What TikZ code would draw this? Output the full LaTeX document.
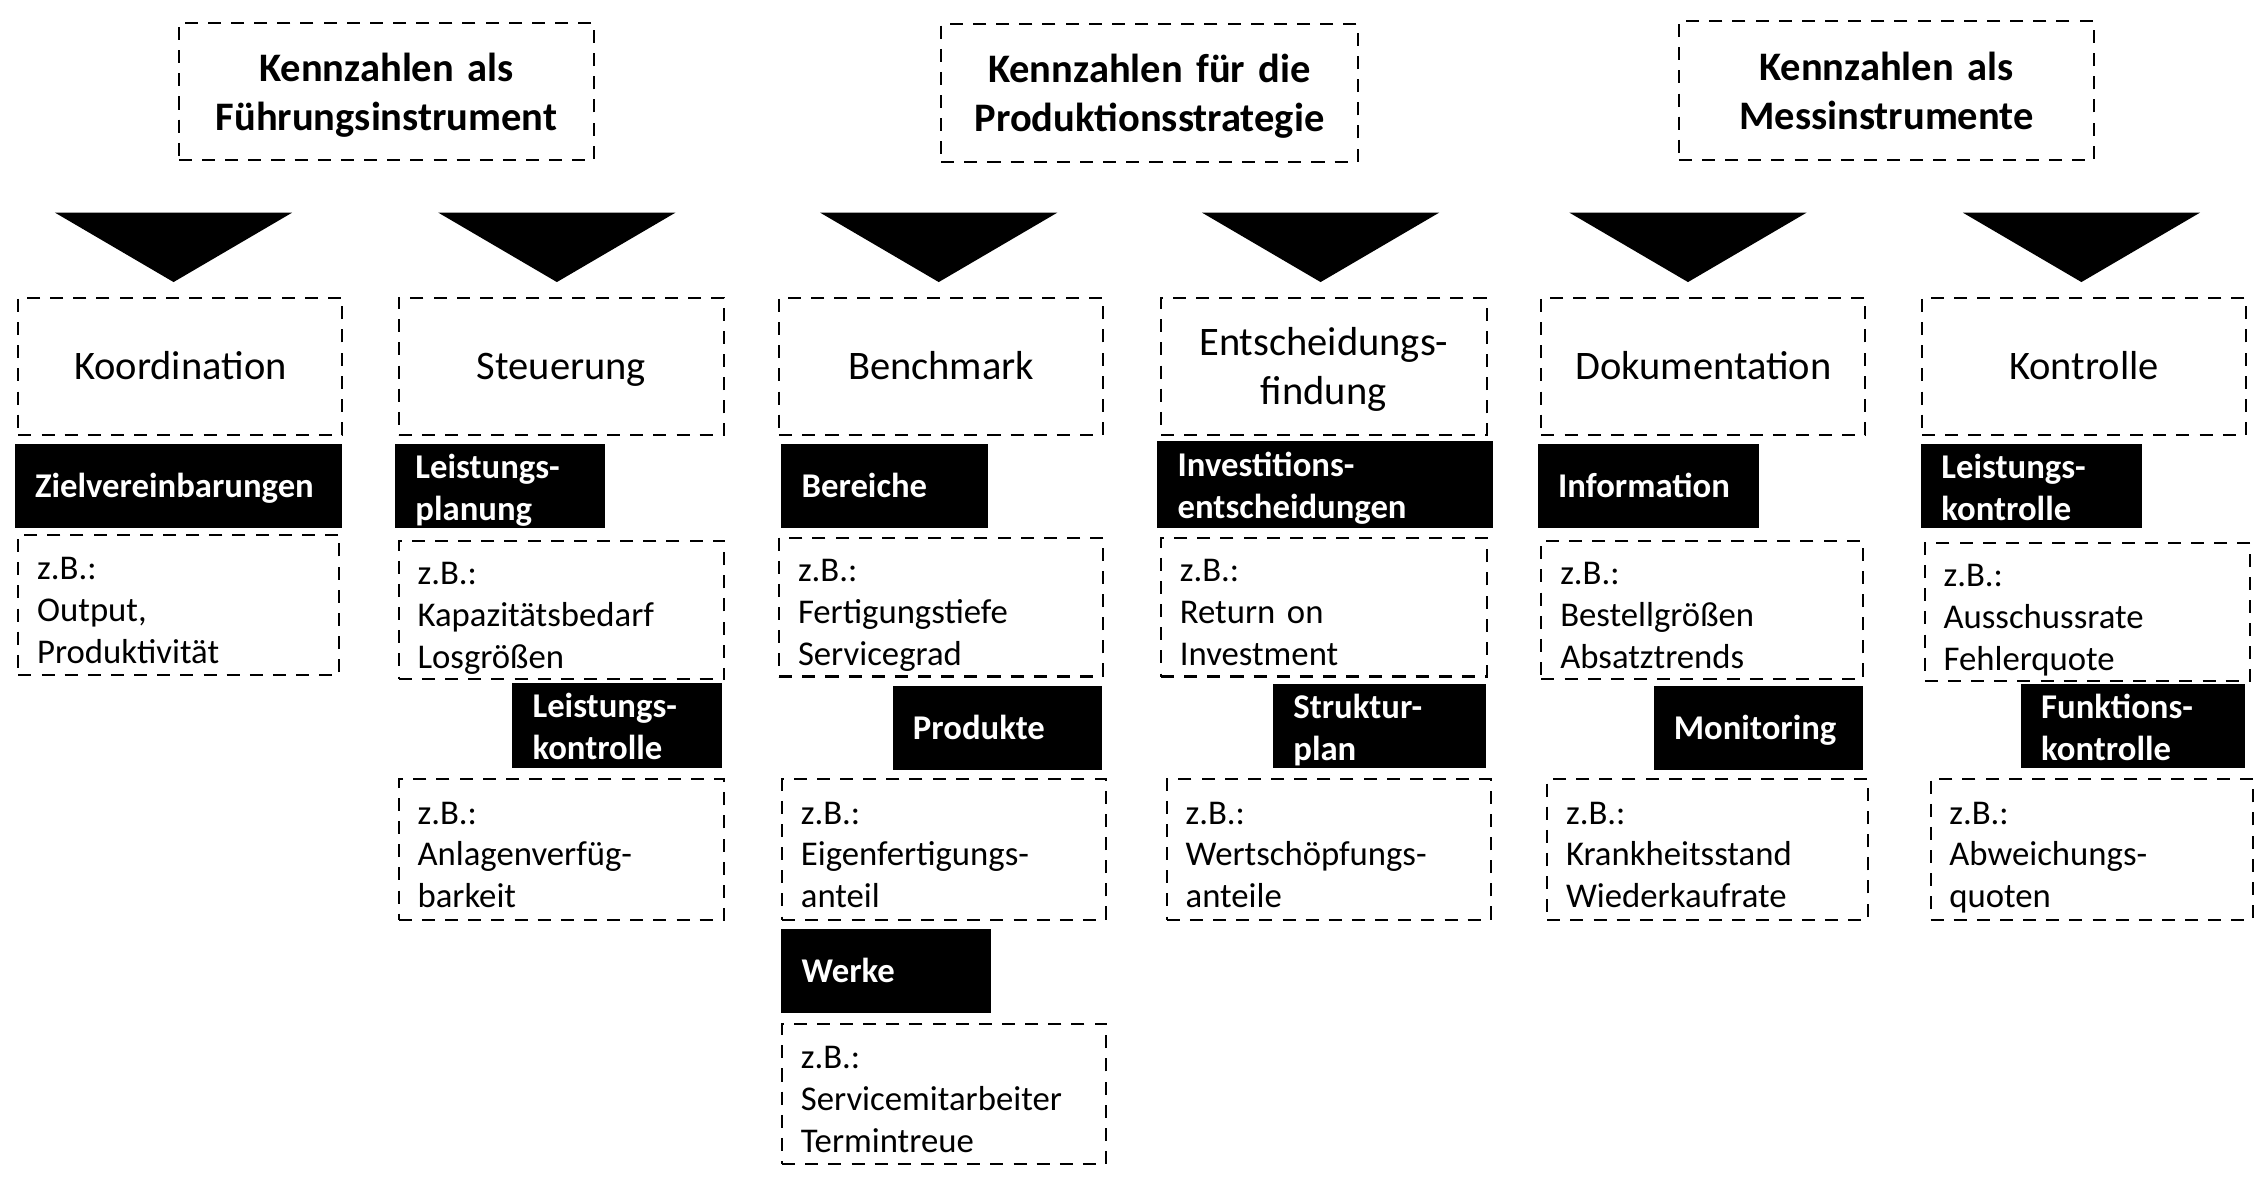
\documentclass[tikz,border=0pt]{standalone}
\usepackage{fontspec}
\setmainfont{Carlito}
\newcommand\fbig{\fontsize{28}{34}\selectfont}
\newcommand\fsmall{\fontsize{24}{29}\selectfont}
\tikzset{
  dbox/.style={draw=black, line width=1.4pt, dash pattern=on 9pt off 7pt, anchor=north west, inner ysep=0pt, rectangle},
  hdr/.style={dbox, align=center, inner xsep=0pt, font=\fbig\bfseries, text height=40.5pt, text depth=54.5pt},
  cat/.style={dbox, align=center, inner xsep=5pt, font=\fbig, text height=57pt, text depth=38pt},
  cattwo/.style={dbox, align=center, inner xsep=5pt, font=\fbig, text height=40pt, text depth=55pt},
  ex/.style={dbox, align=left, inner xsep=13pt, font=\fsmall, text height=30pt, text depth=65pt},
  lab/.style={fill=black, text=white, anchor=north west, inner ysep=0pt, inner xsep=14pt, align=left, font=\fsmall\bfseries, text height=37pt, text depth=21pt},
  labtwo/.style={lab, text height=23.5pt, text depth=34.5pt},
  tri/.style={fill=black}
}
\begin{document}
\begin{tikzpicture}[x=1pt,y=-1pt]
\useasboundingbox (0,0) rectangle (1568,823);
% headers
\node[hdr, minimum width=287pt, text width=287pt, minimum height=95pt] (h1) at (123,15) {Kennzahlen als\\Führungsinstrument};
\node[hdr, minimum width=288pt, text width=288pt, minimum height=95pt] (h2) at (650,16) {Kennzahlen für die\\Produktionsstrategie};
\node[hdr, minimum width=287pt, text width=287pt, minimum height=96pt] (h3) at (1160,14) {Kennzahlen als\\Messinstrumente};
% triangles
\foreach \a in {120,385,649,913,1167,1439}{
  \fill[tri] (\a-82,147) -- (\a+82,147) -- (\a,195) -- cycle;
}
% categories
\node[cat, minimum width=224pt, text width=214pt, minimum height=95pt] (c1) at (12,205) {Koordination};
\node[cat, minimum width=225pt, text width=215pt, minimum height=95pt] (c2) at (275,205) {Steuerung};
\node[cat, minimum width=224pt, text width=214pt, minimum height=95pt] (c3) at (538,205) {Benchmark};
\node[cattwo, minimum width=225pt, text width=215pt, minimum height=95pt] (c4) at (802,205) {Entscheidungs-\\findung};
\node[cat, minimum width=224pt, text width=214pt, minimum height=95pt] (c5) at (1065,205) {Dokumentation};
\node[cat, minimum width=224pt, text width=214pt, minimum height=95pt] (c6) at (1328,205) {Kontrolle};
% labels row 1
\node[lab, minimum width=226pt, text width=198pt, minimum height=58pt] (l1) at (10,307) {Zielvereinbarungen};
\node[labtwo, minimum width=145pt, text width=117pt, minimum height=58pt] (l2) at (273,307) {Leistungs-\\planung};
\node[lab, minimum width=143pt, text width=115pt, minimum height=58pt] (l3) at (540,307) {Bereiche};
\node[labtwo, minimum width=232pt, text width=204pt, minimum height=60pt, text height=24pt, text depth=36pt] (l4) at (800,305) {Investitions-\\entscheidungen};
\node[lab, minimum width=153pt, text width=125pt, minimum height=58pt] (l5) at (1063,307) {Information};
\node[labtwo, minimum width=153pt, text width=125pt, minimum height=58pt] (l6) at (1328,307) {Leistungs-\\kontrolle};
% examples row 1
\node[ex, minimum width=222pt, text width=196pt, minimum height=97pt] (e1) at (12,369) {z.B.:\\Output,\\Produktivität};
\node[ex, minimum width=225pt, text width=199pt, minimum height=96pt] (e2) at (275,373) {z.B.:\\Kapazitätsbedarf\\Losgrößen};
\node[ex, minimum width=224pt, text width=198pt, minimum height=96pt] (e3) at (538,371) {z.B.:\\Fertigungstiefe\\Servicegrad};
\node[ex, minimum width=225pt, text width=199pt, minimum height=96pt] (e4) at (802,371) {z.B.:\\Return on\\Investment};
\node[ex, minimum width=222pt, text width=196pt, minimum height=96pt] (e5) at (1065,373) {z.B.:\\Bestellgrößen\\Absatztrends};
\node[ex, minimum width=225pt, text width=199pt, minimum height=95pt] (e6) at (1330,375) {z.B.:\\Ausschussrate\\Fehlerquote};
% labels row 2
\node[labtwo, minimum width=145pt, text width=117pt, minimum height=59pt] (m2) at (354,472) {Leistungs-\\kontrolle};
\node[lab, minimum width=145pt, text width=117pt, minimum height=58pt] (m3) at (617,474) {Produkte};
\node[labtwo, minimum width=147pt, text width=119pt, minimum height=58pt] (m4) at (880,473) {Struktur-\\plan};
\node[lab, minimum width=145pt, text width=117pt, minimum height=58pt] (m5) at (1143,474) {Monitoring};
\node[labtwo, minimum width=155pt, text width=127pt, minimum height=58pt] (m6) at (1397,473) {Funktions-\\kontrolle};
% examples row 2
\node[ex, minimum width=225pt, text width=199pt, minimum height=97pt] (f2) at (275,538) {z.B.:\\Anlagenverfüg-\\barkeit};
\node[ex, minimum width=224pt, text width=198pt, minimum height=97pt] (f3) at (540,538) {z.B.:\\Eigenfertigungs-\\anteil};
\node[ex, minimum width=224pt, text width=198pt, minimum height=97pt] (f4) at (806,538) {z.B.:\\Wertschöpfungs-\\anteile};
\node[ex, minimum width=222pt, text width=196pt, minimum height=97pt] (f5) at (1069,538) {z.B.:\\Krankheitsstand\\Wiederkaufrate};
\node[ex, minimum width=223pt, text width=197pt, minimum height=97pt] (f6) at (1334,538) {z.B.:\\Abweichungs-\\quoten};
% row 3
\node[lab, minimum width=145pt, text width=117pt, minimum height=58pt] (w3) at (540,642) {Werke};
\node[ex, minimum width=224pt, text width=198pt, minimum height=97pt] (g3) at (540,707) {z.B.:\\Servicemitarbeiter\\Termintreue};
\end{tikzpicture}
\end{document}
